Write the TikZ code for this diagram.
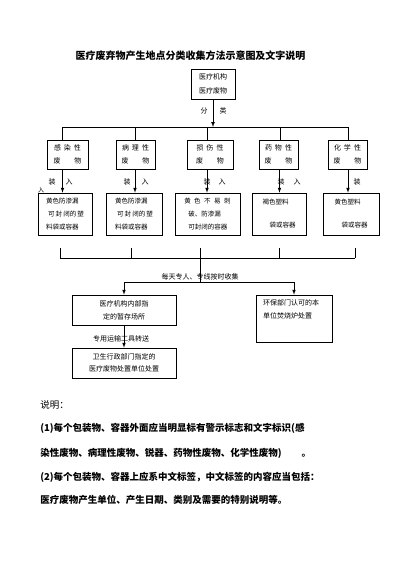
\documentclass[tikz,border=0pt]{standalone}
\usepackage{fontspec}
\setmainfont{Noto Sans CJK SC}
\usetikzlibrary{arrows}
\usetikzlibrary{positioning}

\begin{document}
\begin{tikzpicture}[x=1pt, y=-1pt, line width=0.7pt, >=latex,
    kind/.style={draw, inner sep=0pt, minimum height=29pt, align=center, font=\fontsize{7}{13}\selectfont},
    bag/.style={draw, inner sep=0pt, minimum height=42pt, align=left, font=\fontsize{6.5}{13}\selectfont},
    site/.style={draw, inner sep=0pt, minimum width=104pt, minimum height=30pt, align=center, font=\fontsize{7}{13}\selectfont},
    tag/.style={inner sep=0pt, font=\fontsize{7}{8}\selectfont},
    note/.style={anchor=west, inner sep=0pt, font=\fontsize{9.5}{10}\selectfont\bfseries},
    feed/.style={->}]
    \useasboundingbox (0,0) rectangle (400,565);

    \node [inner sep=0pt, font=\fontsize{10}{12}\selectfont\bfseries] (title) at (190.5,56) {医疗废弃物产生地点分类收集方法示意图及文字说明};

    \node [draw, inner sep=0pt, minimum width=44pt, minimum height=30pt, align=center, font=\fontsize{7}{14}\selectfont] (src) at (213,84) {医疗机构\\医疗废物};
    \coordinate (split) at (213,127);
    \draw [feed] (src) -- (split);
    \node [tag] (fen) at (204,111) {分};
    \node [tag] (lei) at (223,111) {类};

    \node [kind, minimum width=41pt] (b1) at (67.5,154.5) {感\hspace{3pt}染\hspace{3pt}性\\废\hspace{14pt}物};
    \node [kind, minimum width=39pt] (b2) at (135.5,154.5) {病\hspace{3pt}理\hspace{3pt}性\\废\hspace{14pt}物};
    \node [kind, minimum width=46pt] (b3) at (210,154.5) {损\hspace{3pt}伤\hspace{3pt}性\\废\hspace{14pt}物};
    \node [kind, minimum width=39pt] (b4) at (278.5,154.5) {药\hspace{3pt}物\hspace{3pt}性\\废\hspace{14pt}物};
    \node [kind, minimum width=39pt] (b5) at (347.5,154.5) {化\hspace{3pt}学\hspace{3pt}性\\废\hspace{14pt}物};

    \draw (b1.north -| 62.5,0) -- (62.5,0 |- split) -- (348,0 |- split) -- (b5.north -| 348,0);
    \foreach \n/\x in {2/135,3/207,4/280}
        \draw (\x,0 |- split) -- (b\n.north -| \x,0);

    \node [bag, minimum width=54pt] (c1) at (65,214) {黄色防渗漏\\\hspace*{2pt}可\,封\,闭的\,塑\\料袋或容器};
    \node [bag, minimum width=56pt] (c2) at (134,214) {黄色防渗漏\\\hspace*{2pt}可\,封\,闭的\,塑\\料袋或容器};
    \node [bag, minimum width=65pt] (c3) at (207.5,214) {黄\hspace{3.5pt}色\hspace{3.5pt}不\hspace{3.5pt}易\hspace{3.5pt}刺\\\hspace*{4pt}破、防渗漏\\\hspace*{4pt}可封闭的容器};
    \node [bag, minimum width=54pt] (c4) at (279,214) {褐色塑料\\[10pt]\hspace*{7pt}袋或容器};
    \node [bag, minimum width=56pt] (c5) at (351,214) {黄色塑料\\[10pt]\hspace*{7pt}袋或容器};

    \foreach \n/\x in {1/62.5,2/135,3/207,4/279.5,5/348}
        \draw [feed] (b\n.south -| \x,0) -- (c\n.north -| \x,0);
    \foreach \n/\a/\b in {1/52/69,2/127/145,3/207/222,4/281/297} {
        \node [tag] (zhuang\n) at (\a,182) {装};
        \node [tag] (ru\n) at (\b,182) {入};
    }
    \node [tag] (zhuang5) at (357,182) {装};
    \node [tag, font=\fontsize{6}{7}\selectfont] (stray) at (41,190) {入};

    \coordinate (tail) at (200,248);
    \coordinate (merge) at (200,258);
    \coordinate (collect) at (200,282);
    \foreach \x in {60,131,279,355}
        \draw (\x,0 |- tail) -- (\x,0 |- merge);
    \draw (60,0 |- merge) -- (355,0 |- merge);
    \draw (tail) -- (collect);

    \node [site] (store) at (124,310) {医疗机构内部指\\定的暂存场所};
    \node [site, font=\fontsize{7}{12}\selectfont] (dispose) at (124,363) {卫生行政部门指定的\\医疗废物处置单位处置};
    \node [draw, inner sep=0pt, minimum width=76pt, minimum height=47pt] (burn) at (294,318.5) {};
    \node [tag, anchor=north west, align=left, font=\fontsize{7}{13}\selectfont] (burnnote) at ([xshift=7pt, yshift=-5pt]burn.north west) {环保部门认可的本\\单位焚烧炉处置};

    \draw [feed] (collect) -| (store);
    \draw [feed] (collect) -| (burn);
    \node [tag] (daily) at (200,277) {每天专人、专线按时收集};

    \draw [feed] (store) -- (dispose);
    \node [tag] (ship) at (121,339) {专用运输工具转送};

    \node [anchor=west, inner sep=0pt, font=\fontsize{9.5}{10}\selectfont] (shuoming) at (40,405) {说明：};
    \node [note] (rule1a) at (40,428) {(1)每个包装物、容器外面应当明显标有警示标志和文字标识(感};
    \node [note] (rule1b) at (40,453) {染性废物、病理性废物、锐器、药物性废物、化学性废物)\hspace{20pt}。};
    \node [note] (rule2a) at (40,477) {(2)每个包装物、容器上应系中文标签，中文标签的内容应当包括：};
    \node [note] (rule2b) at (40,500) {医疗废物产生单位、产生日期、类别及需要的特别说明等。};
\end{tikzpicture}
\end{document}
